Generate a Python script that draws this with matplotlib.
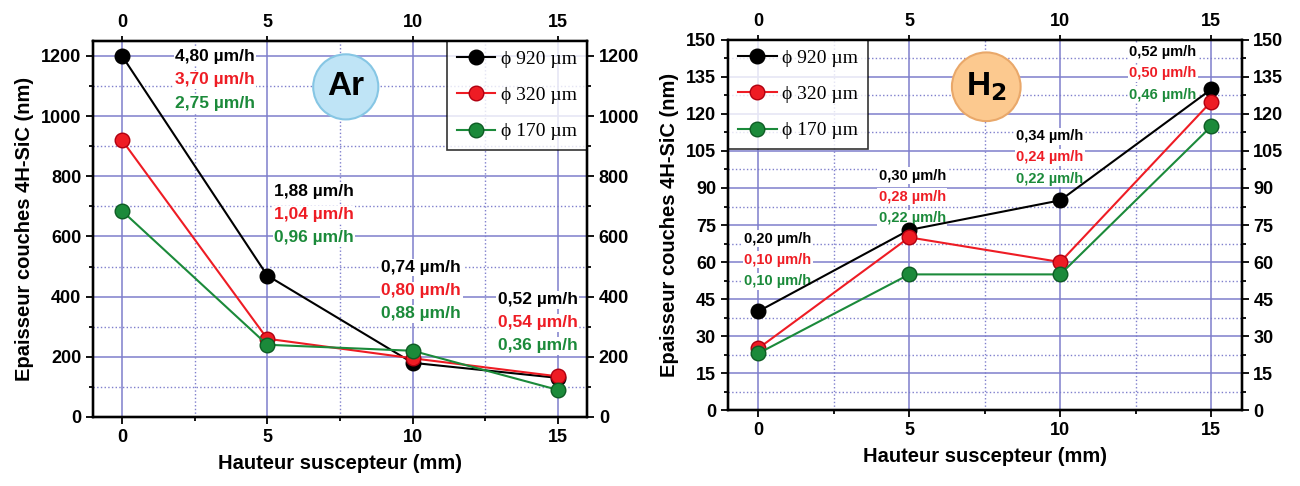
import numpy as np
import matplotlib
matplotlib.use('Agg')
import matplotlib.pyplot as plt
from matplotlib.ticker import MultipleLocator

plt.rcParams['font.family'] = ['Liberation Sans', 'DejaVu Sans']
plt.rcParams['font.weight'] = 'bold'

# données
hauteur = [0, 5, 10, 15]
legendes = ['\u03d5 920 \u00b5m', '\u03d5 320 \u00b5m', '\u03d5 170 \u00b5m']
couleurs = ['#000000', '#ee1c24', '#1b8a3a']
bords = ['#000000', '#b00010', '#0e5c24']

ar_920 = [1200, 470, 180, 130]
ar_320 = [920, 260, 195, 135]
ar_170 = [685, 240, 220, 90]

h2_920 = [40, 73, 85, 130]
h2_320 = [25, 70, 60, 125]
h2_170 = [23, 55, 55, 115]

# vitesses (x, y du haut, textes noir/rouge/vert)
ar_vitesse_x = [3.2, 6.6, 10.3, 14.3]
ar_vitesse_y = [1197, 750, 497, 390]
ar_vitesses = [['4,80 µm/h', '3,70 µm/h', '2,75 µm/h'],
               ['1,88 µm/h', '1,04 µm/h', '0,96 µm/h'],
               ['0,74 µm/h', '0,80 µm/h', '0,88 µm/h'],
               ['0,52 µm/h', '0,54 µm/h', '0,36 µm/h']]

h2_vitesse_x = [0.65, 5.1, 9.65, 13.4]
h2_vitesse_y = [69.5, 95, 111, 145]
h2_vitesses = [['0,20 µm/h', '0,10 µm/h', '0,10 µm/h'],
               ['0,30 µm/h', '0,28 µm/h', '0,22 µm/h'],
               ['0,34 µm/h', '0,24 µm/h', '0,22 µm/h'],
               ['0,52 µm/h', '0,50 µm/h', '0,46 µm/h']]

GRID = '#7f7fcc'
TICK_FS = 13


def panneau(ax, series, ymax, ymaj, ymin_step, vx, vy, vtxt, vstep, vsize,
            badge, badge_xy, badge_fc, badge_ec, leg_loc):
    ax.set_xlim(-1, 16)
    ax.set_ylim(0, ymax)
    ax.xaxis.set_major_locator(MultipleLocator(5))
    ax.xaxis.set_minor_locator(MultipleLocator(2.5))
    ax.yaxis.set_major_locator(MultipleLocator(ymaj))
    ax.yaxis.set_minor_locator(MultipleLocator(ymin_step))
    ax.grid(which='major', color=GRID, lw=1.1, ls='-')
    ax.grid(which='minor', color=GRID, lw=1.0, ls=':')
    ax.set_axisbelow(True)
    for s in ax.spines.values():
        s.set_linewidth(1.6)
    ax.tick_params(which='both', direction='out', width=1.3, labelsize=TICK_FS)
    ax.tick_params(which='major', length=5)
    ax.tick_params(which='minor', length=3)

    for vals, lab, c, e in zip(series, legendes, couleurs, bords):
        ax.plot(hauteur, vals, '-o', color=c, lw=1.5, ms=10.5, mfc=c, mec=e,
                mew=1.0, label=lab, zorder=4)

    # textes des vitesses
    for x, y, txts in zip(vx, vy, vtxt):
        for i, (t, c) in enumerate(zip(txts, couleurs)):
            ax.text(x, y - i * vstep, t, color=c, fontsize=vsize,
                    fontweight='bold', ha='center', va='center', zorder=3,
                    bbox=dict(fc='white', ec='none', pad=1.0))

    ax.text(badge_xy[0], badge_xy[1], badge, fontsize=24, fontweight='bold',
            ha='center', va='center', zorder=5,
            bbox=dict(boxstyle='circle,pad=0.42', fc=badge_fc, ec=badge_ec,
                      lw=1.5))

    leg = ax.legend(loc=leg_loc, prop={'family': ['Liberation Serif', 'DejaVu Serif'],
                                       'size': 14, 'weight': 'normal'},
                    frameon=True, fancybox=False, edgecolor='black',
                    handlelength=2.0, borderpad=0.5, labelspacing=0.95,
                    handletextpad=0.3, borderaxespad=0.0)
    leg.get_frame().set_linewidth(1.2)
    leg.set_zorder(6)

    ax.set_xlabel('Hauteur suscepteur (mm)', fontsize=14.5, fontweight='bold',
                  labelpad=6)
    ax.set_ylabel('Epaisseur couches 4H-SiC (nm)', fontsize=14.5,
                  fontweight='bold', labelpad=5)

    ax_t = ax.twiny()
    ax_t.set_xlim(ax.get_xlim())
    ax_t.xaxis.set_major_locator(MultipleLocator(5))
    ax_t.xaxis.set_minor_locator(MultipleLocator(2.5))
    ax_t.tick_params(which='both', direction='out', width=1.3, labelsize=TICK_FS)
    ax_t.tick_params(which='minor', length=0)
    ax_r = ax.twinx()
    ax_r.set_ylim(ax.get_ylim())
    ax_r.yaxis.set_major_locator(MultipleLocator(ymaj))
    ax_r.yaxis.set_minor_locator(MultipleLocator(ymin_step))
    ax_r.tick_params(which='both', direction='out', width=1.3, labelsize=TICK_FS)
    ax_r.tick_params(which='major', length=5)
    ax_r.tick_params(which='minor', length=3)
    for a in (ax_t, ax_r):
        for s in a.spines.values():
            s.set_linewidth(1.6)
        for lbl in a.get_xticklabels() + a.get_yticklabels():
            lbl.set_fontweight('bold')
    for lbl in ax.get_xticklabels() + ax.get_yticklabels():
        lbl.set_fontweight('bold')


fig = plt.figure(figsize=(13, 4.86), dpi=100)
ax1 = fig.add_axes([0.0715, 0.142, 0.38, 0.774])
ax2 = fig.add_axes([0.56, 0.156, 0.395, 0.762])

panneau(ax1, [ar_920, ar_320, ar_170], 1250, 200, 100,
        ar_vitesse_x, ar_vitesse_y, ar_vitesses, 77, 12.5,
        'Ar', (7.7, 1097), '#bfe4f6', '#86c6e4', 'upper right')
panneau(ax2, [h2_920, h2_320, h2_170], 150, 15, 7.5,
        h2_vitesse_x, h2_vitesse_y, h2_vitesses, 8.6, 10.5,
        r'H$_\mathbf{2}$', (7.55, 131), '#fcc98f', '#e9a86a', 'upper left')

fig.savefig('out.png', dpi=100)
